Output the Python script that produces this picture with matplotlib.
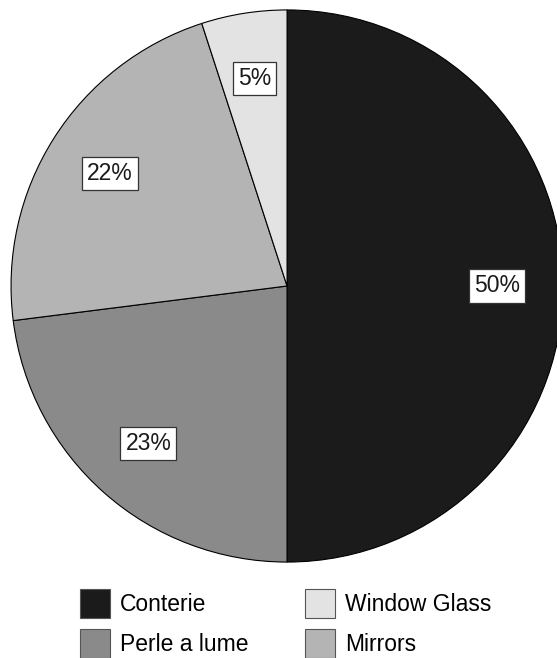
import matplotlib.pyplot as plt

plt.rcParams['font.family'] = ['Liberation Sans', 'DejaVu Sans']

# glass production shares, clockwise from the top
labels = ['Conterie', 'Perle a lume', 'Mirrors', 'Window Glass']
shares = [50, 23, 22, 5]
colors = ['#1b1b1b', '#8a8a8a', '#b4b4b4', '#e3e3e3']

fig = plt.figure(figsize=(5.57, 6.58), dpi=100)
# axes laid out so the pie runs slightly off the right edge, as in the original
ax = fig.add_axes([0, 0.1307, 1, 0.8693])

wedges, texts, autotexts = ax.pie(
    shares, colors=colors, startangle=90, counterclock=False,
    autopct='%d%%', pctdistance=0.76,
    wedgeprops=dict(edgecolor='black', linewidth=0.8),
    textprops=dict(fontsize=16.5, color='#1a1a1a'))

for t in autotexts:
    t.set_bbox(dict(boxstyle='square,pad=0.22', facecolor='white',
                    edgecolor='#333333', linewidth=0.9))

ax.set_xlim(-1.040, 0.978)
ax.set_ylim(-1.036, 1.036)
ax.set_aspect('auto')
ax.axis('off')

order = [0, 1, 3, 2]
leg = fig.legend([wedges[i] for i in order], [labels[i] for i in order],
                 ncol=2, loc='upper left', bbox_to_anchor=(80 / 557, 0.1049),
                 borderaxespad=0, borderpad=0,
                 frameon=False, fontsize=16.5, handlelength=1.31, handleheight=1.57,
                 handletextpad=0.44, columnspacing=2.47, labelspacing=0.48)
for h in leg.legend_handles:
    h.set_edgecolor('#555555')

fig.savefig('out.png', dpi=100)
